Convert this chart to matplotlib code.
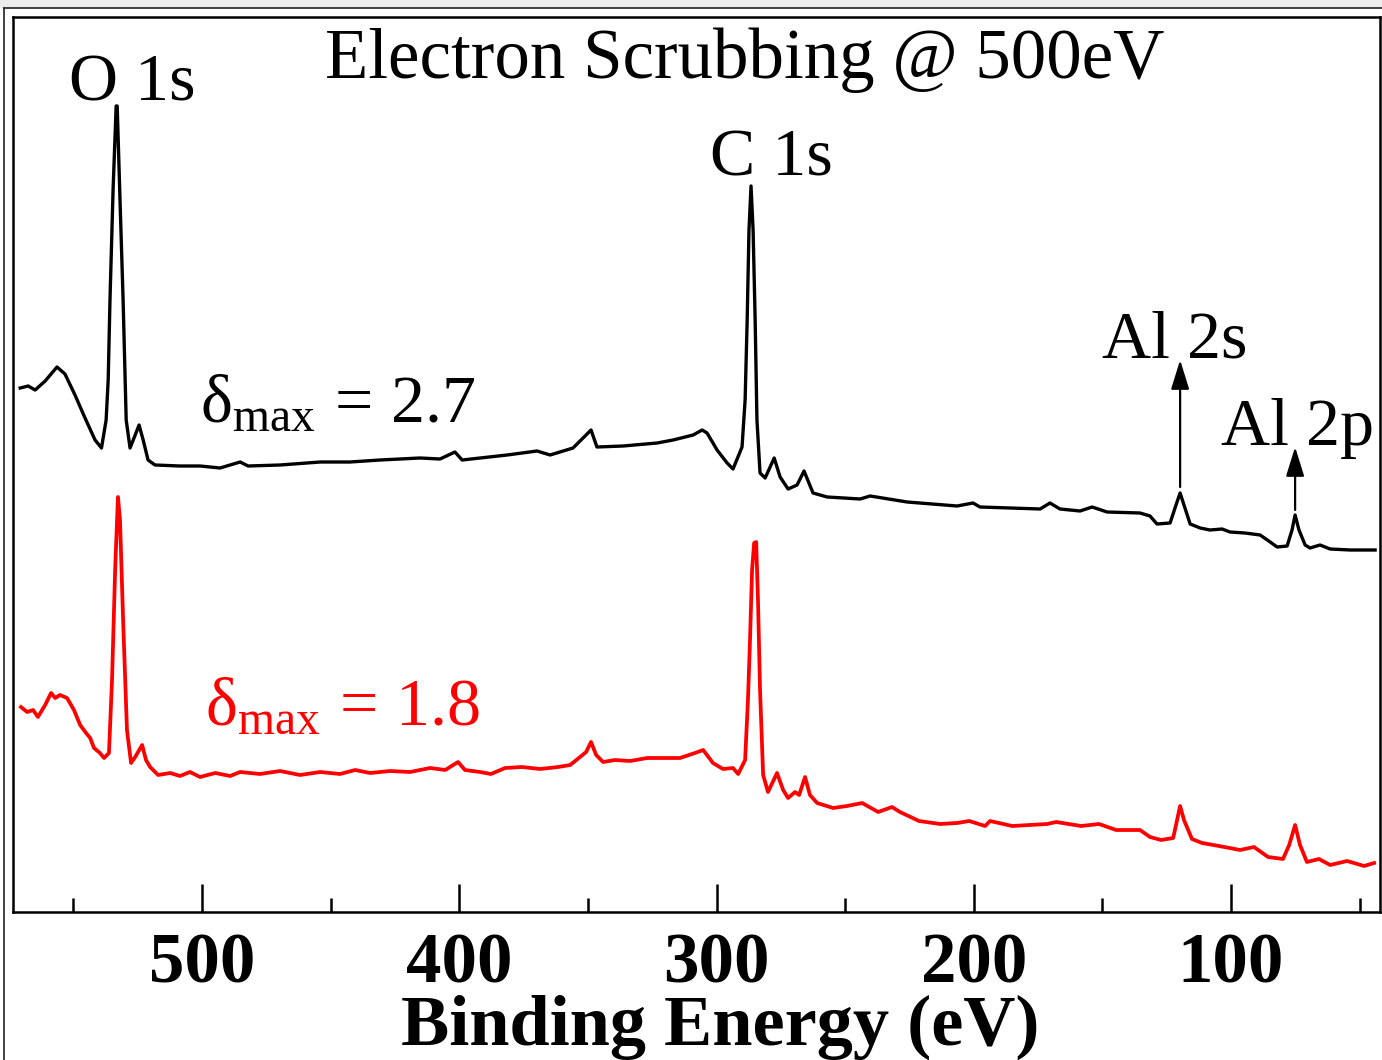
import matplotlib
matplotlib.use("Agg")
import matplotlib.pyplot as plt
from matplotlib.lines import Line2D
from matplotlib.patches import Rectangle
from matplotlib.ticker import MultipleLocator

plt.rcParams['font.family'] = ['Liberation Serif', 'DejaVu Serif']
plt.rcParams['mathtext.fontset'] = 'custom'
plt.rcParams['mathtext.rm'] = 'Liberation Serif'
plt.rcParams['mathtext.it'] = 'Liberation Serif:italic'
plt.rcParams['mathtext.bf'] = 'Liberation Serif:bold'

# ---------------- data (binding energy in eV, intensity in a.u.) ----------------
black_energy = [570.7, 567.6, 564.9, 561.0, 556.4, 553.3, 549.4, 545.5, 541.6, 539.1,
                537.3, 536.5, 535.8, 534.6, 533.4, 533.0, 531.9, 530.7, 529.5, 528.0,
                526.0, 524.5, 522.9, 521.0, 518.3, 508.6, 500.8, 493.0, 485.2, 482.1,
                469.7, 454.1, 442.5, 430.8, 415.3, 407.5, 401.7, 398.9, 381.4, 369.8,
                364.7, 355.8, 351.9, 348.8, 346.5, 336.3, 323.1, 316.9, 309.1, 305.6,
                303.7, 299.8, 295.9, 293.6, 290.1, 288.9, 288.1, 287.4, 286.6, 285.8,
                285.0, 284.3, 283.1, 281.1, 277.6, 275.3, 272.2, 268.7, 266.0, 262.5,
                257.0, 244.2, 240.3, 225.9, 206.5, 200.3, 197.6, 174.2, 170.4, 166.5,
                158.7, 154.0, 148.2, 135.4, 131.5, 128.8, 123.7, 121.4, 119.8, 118.3,
                115.9, 112.0, 108.2, 103.5, 100.4, 94.6, 88.7, 84.8, 82.1, 78.2,
                76.3, 75.1, 73.6, 71.2, 69.3, 65.4, 61.5, 53.7, 44.0]
black_intensity = [524, 526, 522, 531, 545, 538, 517, 494, 472, 464,
                   492, 532, 612, 722, 806, 806, 712, 612, 492, 464,
                   477, 487, 472, 452, 447, 446, 446, 444, 450, 446,
                   447, 450, 450, 452, 454, 453, 460, 452, 457, 461,
                   457, 464, 474, 482, 465, 466, 469, 472, 477, 482,
                   479, 462, 449, 443, 465, 512, 592, 682, 726, 682,
                   592, 492, 439, 434, 454, 435, 423, 427, 441, 419,
                   415, 413, 416, 410, 406, 409, 405, 403, 409, 403,
                   401, 405, 400, 399, 396, 388, 389, 407, 419, 407,
                   388, 384, 382, 383, 380, 379, 377, 370, 365, 366,
                   382, 397, 382, 367, 364, 367, 363, 362, 362]

red_energy = [570.4, 568.0, 565.7, 563.8, 561.0, 558.7, 557.1, 555.2, 552.5, 549.8,
              547.4, 545.1, 543.5, 542.0, 539.7, 538.1, 536.2, 535.0, 533.8, 532.7,
              531.9, 530.7, 529.2, 527.6, 526.0, 523.3, 521.8, 520.2, 517.1, 512.4,
              508.6, 504.7, 500.8, 494.9, 489.1, 485.2, 477.5, 469.7, 461.9, 454.1,
              446.4, 440.5, 434.7, 426.9, 419.1, 411.4, 405.5, 400.5, 397.8, 391.9,
              387.7, 382.2, 375.6, 368.6, 361.6, 356.9, 353.1, 350.7, 348.8, 346.8,
              344.1, 339.5, 333.6, 327.0, 322.0, 314.2, 308.4, 305.2, 301.4, 297.5,
              293.6, 291.6, 288.9, 287.8, 287.0, 286.2, 285.4, 284.6, 283.9, 283.1,
              281.9, 280.0, 276.5, 274.1, 272.2, 269.5, 267.9, 265.6, 263.7, 260.9,
              254.7, 249.3, 243.4, 237.2, 231.8, 228.7, 221.3, 213.1, 206.5, 201.8,
              195.6, 193.7, 185.1, 171.5, 168.0, 158.3, 151.3, 144.7, 135.4, 131.5,
              127.2, 122.5, 121.0, 119.8, 118.3, 115.2, 111.3, 104.7, 96.5, 91.1,
              85.6, 79.8, 77.4, 75.1, 73.2, 70.5, 65.8, 61.5, 54.9, 48.3,
              44.4]
red_intensity = [205, 200, 202, 195, 207, 219, 214, 217, 214, 202,
                 187, 179, 174, 164, 159, 154, 159, 232, 342, 415,
                 392, 292, 182, 149, 155, 167, 152, 145, 137, 139,
                 136, 140, 135, 139, 136, 140, 138, 141, 137, 140,
                 138, 142, 139, 141, 140, 144, 142, 150, 142, 140,
                 138, 144, 145, 143, 145, 147, 155, 160, 170, 157,
                 150, 152, 151, 154, 154, 154, 159, 162, 149, 143,
                 144, 138, 152, 212, 272, 342, 369, 370, 312, 222,
                 137, 120, 139, 122, 114, 120, 117, 135, 117, 109,
                 104, 106, 109, 100, 105, 100, 91, 88, 89, 91,
                 86, 91, 86, 88, 90, 86, 88, 82, 82, 75,
                 72, 74, 92, 106, 92, 73, 69, 66, 62, 65,
                 55, 53, 67, 87, 67, 50, 53, 47, 51, 46,
                 49]

x_ticks = [500, 400, 300, 200, 100]
x_tick_labels = ['500', '400', '300', '200', '100']
x_range = (573.5, 42.1)
y_range = (0, 895)

peak_labels = ['O 1s', 'C 1s', 'Al 2s', 'Al 2p']
peak_label_pos = [(527.2, 812), (278.8, 737), (121.8, 555), (74.0, 467)]
arrow_energy = [119.8, 75.1]
arrow_from = [425, 402]
arrow_to = [552, 465]

title_text = 'Electron Scrubbing @ 500eV'
delta_labels = [r'$\mathrm{\delta_{max}}\,=\,\mathrm{2.7}$',
                r'$\mathrm{\delta_{max}}\,=\,\mathrm{1.8}$']
delta_pos = [(500.8, 490), (498.8, 187)]
delta_colors = ['black', '#ff0000']

# ---------------- figure ----------------
W, H = 1382, 1060
fig = plt.figure(figsize=(W / 100, H / 100), dpi=100)
ax = fig.add_axes([13 / W, 1 - 912 / H, (1380 - 13) / W, (912 - 17) / H])

ax.plot(black_energy, black_intensity, color='black', lw=2.4, solid_joinstyle='round')
ax.plot(red_energy, red_intensity, color='#ff0000', lw=2.7, solid_joinstyle='round')

ax.set_xlim(*x_range)
ax.set_ylim(*y_range)

ax.set_xticks(x_ticks)
ax.set_xticklabels(x_tick_labels, fontsize=51, fontweight='bold')
ax.xaxis.set_minor_locator(MultipleLocator(50))
ax.tick_params(axis='x', which='major', direction='in', length=20, width=1.8, pad=15,
               top=False)
ax.tick_params(axis='x', which='minor', direction='in', length=10, width=1.8, top=False)
ax.set_yticks([])
for s in ax.spines.values():
    s.set_linewidth(1.8)

ax.set_xlabel('Binding Energy (eV)', fontsize=52, fontweight='bold', labelpad=0)
ax.xaxis.set_label_coords(0.517, -0.1486)
ax.xaxis.label.set_va('baseline')

ax.text(0.5355, 0.932, title_text, transform=ax.transAxes, ha='center',
        va='baseline', fontsize=51)

for lab, (ex, iy) in zip(peak_labels, peak_label_pos):
    ax.text(ex, iy, lab, ha='center', va='baseline', fontsize=49)

for e, a0, a1 in zip(arrow_energy, arrow_from, arrow_to):
    ax.annotate('', xy=(e, a1), xytext=(e, a0),
                arrowprops=dict(arrowstyle='-|>,head_length=0.9,head_width=0.28',
                                mutation_scale=20, color='black', lw=1.6,
                                shrinkA=0, shrinkB=0))

for lab, (ex, iy), c in zip(delta_labels, delta_pos, delta_colors):
    ax.text(ex, iy, lab, ha='left', va='baseline', fontsize=49, color=c)

# outer frame of the picture
fig.add_artist(Rectangle((0, 1 - 8 / H), 1, 8 / H, transform=fig.transFigure,
                         facecolor='#ececec', edgecolor='none', zorder=-5))
fig.add_artist(Line2D([4 / W, 4 / W], [0, 1 - 8 / H], transform=fig.transFigure,
                      color='#222222', lw=1.2))
fig.add_artist(Line2D([4 / W, 1], [1 - 8 / H, 1 - 8 / H], transform=fig.transFigure,
                      color='#222222', lw=1.2))

fig.savefig('out.png', dpi=100)
